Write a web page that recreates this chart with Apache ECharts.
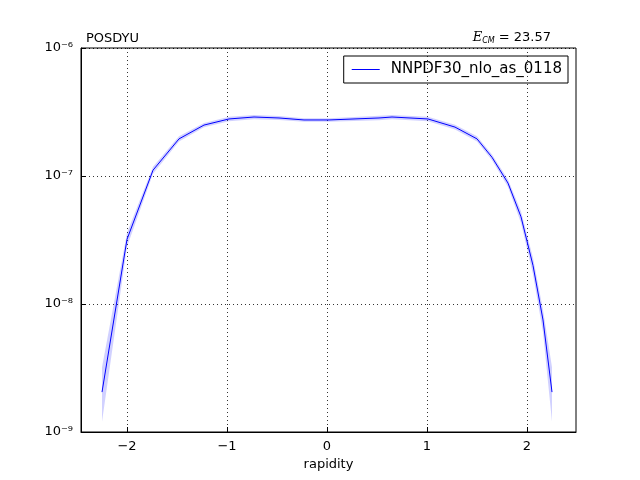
<!DOCTYPE html>
<html><head><meta charset="utf-8">
<script src="https://cdn.jsdelivr.net/npm/echarts@6/dist/echarts.min.js"></script>
<style>body{margin:0}#c{width:640px;height:480px}</style></head>
<body><div id="c"></div>
<script>
const xs = [-2.25,-2.0,-1.74,-1.48,-1.23,-0.98,-0.73,-0.48,-0.23,0.02,0.27,0.52,0.65,1.01,1.28,1.5,1.65,1.81,1.94,2.06,2.16,2.25];
const ys = [2.05e-9,3.2e-8,1.11e-7,1.95e-7,2.5e-7,2.79e-7,2.89e-7,2.84e-7,2.74e-7,2.74e-7,2.79e-7,2.84e-7,2.89e-7,2.79e-7,2.41e-7,1.95e-7,1.4e-7,8.8e-8,4.8e-8,2.0e-8,7.5e-9,2.05e-9];
const lo = [1.2e-9,2.8e-8,1.04e-7,1.86e-7,2.4e-7,2.68e-7,2.78e-7,2.74e-7,2.65e-7,2.65e-7,2.69e-7,2.73e-7,2.78e-7,2.68e-7,2.31e-7,1.86e-7,1.33e-7,8.2e-8,4.3e-8,1.7e-8,6.0e-9,1.2e-9];
const hi = [3.2e-9,3.6e-8,1.18e-7,2.04e-7,2.6e-7,2.9e-7,3.0e-7,2.94e-7,2.83e-7,2.83e-7,2.89e-7,2.95e-7,3.0e-7,2.9e-7,2.51e-7,2.04e-7,1.47e-7,9.4e-8,5.3e-8,2.3e-8,9.0e-9,3.2e-9];
const xTicks = [-2,-1,0,1,2];
const sup = {'-6':'⁻⁶','-7':'⁻⁷','-8':'⁻⁸','-9':'⁻⁹'};
const chart = echarts.init(document.getElementById('c'));
const axLine = {show:true,onZero:false,lineStyle:{color:'#000'}};
chart.setOption({
  animation:false,
  grid:{left:81,right:64,top:48,bottom:48,show:true,borderColor:'#000',borderWidth:1},
  title:[{text:'POSDYU',left:81,top:27,textStyle:{fontSize:13,fontWeight:'normal',fontFamily:'DejaVu Sans',color:'#000'}},
    {text:'{i|E}{s|CM} = 23.57',right:84,top:26,textStyle:{fontSize:13,fontWeight:'normal',fontFamily:'DejaVu Sans',color:'#000',
      rich:{i:{fontStyle:'italic',fontFamily:'DejaVu Serif',fontSize:13},s:{fontStyle:'italic',fontSize:8,verticalAlign:'bottom',padding:[6,0,0,0]}}}}],
  legend:{right:72,top:56,itemWidth:28,itemHeight:1,itemGap:10,borderColor:'#000',borderWidth:1,padding:[6,6,6,8],
    textStyle:{fontSize:15,fontFamily:'DejaVu Sans',color:'#000',padding:[0,0,0,6]},data:[{name:'NNPDF30_nlo_as_0118',icon:'rect'}]},
  xAxis:{type:'value',min:-2.46,max:2.49,name:'rapidity',nameLocation:'middle',nameGap:22,
    nameTextStyle:{fontSize:13,fontFamily:'DejaVu Sans',color:'#000'},
    axisLine:axLine,axisTick:{inside:true,length:5,customValues:xTicks,lineStyle:{color:'#000'}},
    axisLabel:{color:'#000',fontSize:13,fontFamily:'DejaVu Sans',customValues:xTicks,formatter:v=>String(Math.round(v)).replace('-','−')},
    splitLine:{show:true,lineStyle:{color:'#000',type:[1,3],width:0.8}}},
  yAxis:{type:'log',min:1e-9,max:1e-6,logBase:10,
    axisLine:axLine,axisTick:{inside:true,length:5,lineStyle:{color:'#000'}},
    axisLabel:{color:'#000',fontSize:13,fontFamily:'DejaVu Sans',formatter:v=>'10'+sup[String(Math.round(Math.log10(v)))]},
    splitLine:{show:true,lineStyle:{color:'#000',type:[1,3],width:0.8}}},
  series:[
    {type:'custom',silent:true,data:[0],renderItem:(p,api)=>{
      const pts=[];
      for(let i=0;i<xs.length;i++)pts.push(api.coord([xs[i],hi[i]]));
      for(let i=xs.length-1;i>=0;i--)pts.push(api.coord([xs[i],lo[i]]));
      return {type:'polygon',shape:{points:pts},style:{fill:'rgba(0,0,255,0.18)'}};
    },z:1},
    {name:'NNPDF30_nlo_as_0118',type:'line',data:xs.map((x,i)=>[x,ys[i]]),showSymbol:false,
      lineStyle:{color:'#0000ff',width:1},itemStyle:{color:'#0000ff'},z:2}
  ]
});
</script></body></html>
